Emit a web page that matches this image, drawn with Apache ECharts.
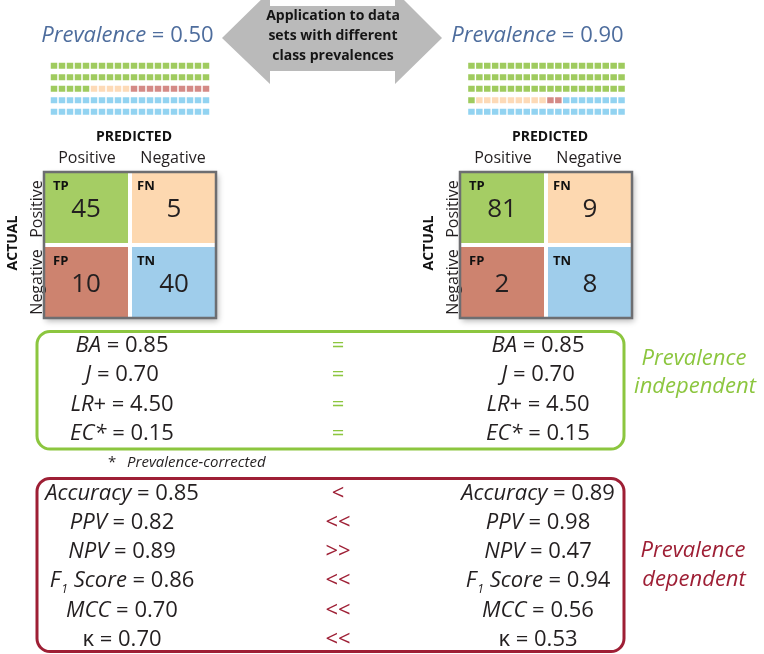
<!DOCTYPE html>
<html><head><meta charset="utf-8">
<script src="https://cdn.jsdelivr.net/npm/echarts@6/dist/echarts.min.js"></script>
<style>html,body{margin:0;padding:0;background:#fff}#c{width:764px;height:654px}</style>
</head><body><div id="c"></div>
<script>
// ---------- data ----------
const prevalences = ['0.50', '0.90'];
const cellKinds = ['TP', 'FN', 'FP', 'TN'];
const waffleLeft = [45, 5, 10, 40];    // cells per kind, filled row by row
const waffleRight = [61, 9, 2, 28];
const matrixLeft = [45, 5, 10, 40];    // TP, FN, FP, TN
const matrixRight = [81, 9, 2, 8];
const predictedLabels = ['Positive', 'Negative'];
const actualLabels = ['Positive', 'Negative'];
const indepNames = ['BA', 'J', 'LR+', 'EC*'];
const indepLeft = ['0.85', '0.70', '4.50', '0.15'];
const indepRight = ['0.85', '0.70', '4.50', '0.15'];
const indepSigns = ['=', '=', '=', '='];
const depNames = ['Accuracy', 'PPV', 'NPV', 'F1 Score', 'MCC', 'κ'];
const depLeft = ['0.85', '0.82', '0.89', '0.86', '0.70', '0.70'];
const depRight = ['0.89', '0.98', '0.47', '0.94', '0.56', '0.53'];
const depSigns = ['<', '<<', '>>', '<<', '<<', '<<'];
const arrowLines = ['Application to data', 'sets with different', 'class prevalences'];

// ---------- style ----------
const FONT = "'Open Sans', 'Noto Sans', sans-serif";
const waffleColors = ['#9fcb5e', '#fddab7', '#d48a86', '#92d3f1'];
const matrixColors = ['#a5cd64', '#fdd8b0', '#cd836f', '#9fcdeb'];
const BLUE = '#4e6d9d', GREEN = '#8cc63f', RED = '#9e1f35', INK = '#231f20';
const WCOLS = 20, WROWS = 5;

function waffleData(counts) {
  const out = []; let i = 0;
  counts.forEach((n, k) => { for (let j = 0; j < n; j++) { out.push([i % WCOLS, Math.floor(i / WCOLS), k]); i++; } });
  return out;
}
function matrixData(vals) {
  return vals.map((v, k) => [k % 2, Math.floor(k / 2), v, k]);
}
const range = n => Array.from({length: n}, (_, i) => String(i));

const grids = [
  {left: 50, top: 60, width: 160, height: 57.5},
  {left: 467.5, top: 60, width: 158, height: 57.5},
  {left: 44, top: 172, width: 172, height: 146},
  {left: 460, top: 172, width: 172, height: 146}
];
const xAxes = grids.map((g, i) => ({type: 'category', gridIndex: i, show: false, data: range(i < 2 ? WCOLS : 2)}));
const yAxes = grids.map((g, i) => ({type: 'category', gridIndex: i, show: false, inverse: true, data: range(i < 2 ? WROWS : 2)}));

function renderWaffle(params, api) {
  const c = api.coord([api.value(0), api.value(1)]);
  return {type: 'rect', shape: {x: c[0] - 3.25, y: c[1] - 3, width: 6.5, height: 6}, style: {fill: waffleColors[api.value(2)]}};
}
function renderMatrix(params, api) {
  const col = api.value(0), row = api.value(1);
  const c = api.coord([col, row]); const s = api.size([1, 1]);
  let x0 = c[0] - s[0] / 2, x1 = c[0] + s[0] / 2, y0 = c[1] - s[1] / 2, y1 = c[1] + s[1] / 2;
  const g = 2;
  if (col === 0) x1 -= g; else x0 += g;
  if (row === 0) y1 -= g; else y0 += g;
  const k = api.value(3);
  return {type: 'group', children: [
    {type: 'rect', shape: {x: x0, y: y0, width: x1 - x0, height: y1 - y0}, style: {fill: matrixColors[k]}},
    {type: 'text', x: x0 + (col === 0 ? 9 : 5), y: y0 + 14, style: {text: cellKinds[k], fill: '#111', font: 'bold 13px ' + FONT, textAlign: 'left', textVerticalAlign: 'middle'}},
    {type: 'text', x: (x0 + x1) / 2, y: (y0 + y1) / 2 + 2, style: {text: String(api.value(2)), fill: INK, font: '26px ' + FONT, textAlign: 'center', textVerticalAlign: 'middle'}}
  ]};
}

const series = [
  {type: 'custom', xAxisIndex: 0, yAxisIndex: 0, renderItem: renderWaffle, data: waffleData(waffleLeft), clip: false},
  {type: 'custom', xAxisIndex: 1, yAxisIndex: 1, renderItem: renderWaffle, data: waffleData(waffleRight), clip: false},
  {type: 'custom', xAxisIndex: 2, yAxisIndex: 2, renderItem: renderMatrix, data: matrixData(matrixLeft), clip: false, z: 5},
  {type: 'custom', xAxisIndex: 3, yAxisIndex: 3, renderItem: renderMatrix, data: matrixData(matrixRight), clip: false, z: 5}
];

// ---------- decorations & text ----------
const G = [];
function txt(x, y, text, font, fill, align, extra) {
  G.push(Object.assign({type: 'text', x, y, z: 20, style: {text, font: font + ' ' + FONT, fill, textAlign: align || 'center', textVerticalAlign: 'middle'}}, extra || {}));
}
function rtxt(x, y, text, rich, fill, align) {
  G.push({type: 'text', x, y, z: 20, style: {text, rich, fill, fontFamily: FONT, fontSize: 22, textAlign: align || 'center', textVerticalAlign: 'middle'}});
}

// arrow
G.push({type: 'polygon', z: 1, shape: {points: [[222, 38], [270, -9], [270, 6], [395, 6], [395, -9], [442, 38], [395, 84], [395, 71], [270, 71], [270, 84]]}, style: {fill: '#bababa'}});
arrowLines.forEach((l, i) => txt(333, 16.5 + i * 20, l, 'bold 14px', '#151515'));

// titles
const titleRich = {i: {fontStyle: 'italic', fontSize: 22, fontFamily: FONT, fill: BLUE}, n: {fontSize: 22, fontFamily: FONT, fill: BLUE}};
[127.5, 537.5].forEach((x, i) => rtxt(x, 36, '{i|Prevalence}{n| = ' + prevalences[i] + '}', titleRich, BLUE));

// confusion matrix frames and labels
[2, 3].forEach(gi => {
  const g = grids[gi];
  G.push({type: 'rect', z: 0, shape: {x: g.left, y: g.top, width: g.width, height: g.height}, style: {fill: '#fff', shadowBlur: 6, shadowOffsetX: 2, shadowOffsetY: 3, shadowColor: 'rgba(0,0,0,0.3)'}});
  G.push({type: 'rect', z: 30, shape: {x: g.left, y: g.top, width: g.width, height: g.height}, style: {fill: 'none', stroke: '#6d6e71', lineWidth: 2.5}});
  const cx = g.left + g.width / 2;
  txt(cx + 4, 137, 'PREDICTED', 'bold 14px', '#111');
  predictedLabels.forEach((l, j) => txt(g.left + g.width / 4 * (1 + 2 * j), 158.5, l, '16px', INK));
  txt(g.left - 31, g.top + g.height / 2 - 2, 'ACTUAL', 'bold 14px', '#111', 'center', {rotation: Math.PI / 2});
  actualLabels.forEach((l, j) => txt(g.left - 7, g.top + g.height / 4 * (1 + 2 * j) + 0.5, l, '16px', INK, 'center', {rotation: Math.PI / 2}));
});

// metric boxes
G.push({type: 'rect', z: 2, shape: {x: 37, y: 331.5, width: 587, height: 117.5, r: 13}, style: {fill: 'none', stroke: GREEN, lineWidth: 3}});
G.push({type: 'rect', z: 2, shape: {x: 37, y: 478.5, width: 587, height: 173, r: 13}, style: {fill: 'none', stroke: RED, lineWidth: 3}});

const mRich = {
  i: {fontStyle: 'italic', fontSize: 22, fontFamily: FONT, fill: INK, lineHeight: 28},
  n: {fontSize: 22, fontFamily: FONT, fill: INK, lineHeight: 28},
  s: {fontStyle: 'italic', fontSize: 12, fontFamily: FONT, fill: INK, lineHeight: 10, verticalAlign: 'bottom', padding: [0, 6, 0, 1]}
};
function metricText(name, v) {
  if (name === 'F1 Score') return '{i|F}{s|1}{i|Score}{n| = ' + v + '}';
  if (name === 'κ') return '{n|κ = ' + v + '}';
  if (name === 'LR+') return '{i|LR}{n|+ = ' + v + '}';
  return '{i|' + name + '}{n| = ' + v + '}';
}
indepNames.forEach((nm, r) => {
  const y = 346 + r * 29.2;
  rtxt(122, y, metricText(nm, indepLeft[r]), mRich, INK);
  rtxt(538, y, metricText(nm, indepRight[r]), mRich, INK);
  txt(338, y, indepSigns[r], '22px', GREEN);
});
depNames.forEach((nm, r) => {
  const y = 493.5 + r * 29.2;
  rtxt(122, y, metricText(nm, depLeft[r]), mRich, INK);
  rtxt(538, y, metricText(nm, depRight[r]), mRich, INK);
  txt(338, y, depSigns[r], '22px', RED);
});
txt(108, 462.5, '*', '15px', INK, 'left');
txt(127, 462.5, 'Prevalence-corrected', 'italic 15px', INK, 'left');
txt(694, 359, 'Prevalence', 'italic 22px', GREEN);
txt(695, 387, 'independent', 'italic 22px', GREEN);
txt(693, 550.5, 'Prevalence', 'italic 22px', RED);
txt(694, 579.5, 'dependent', 'italic 22px', RED);

const chart = echarts.init(document.getElementById('c'), null, {renderer: 'canvas'});
chart.setOption({
  animation: false,
  backgroundColor: '#fff',
  grid: grids,
  xAxis: xAxes,
  yAxis: yAxes,
  series,
  graphic: {elements: G}
});
</script></body></html>
